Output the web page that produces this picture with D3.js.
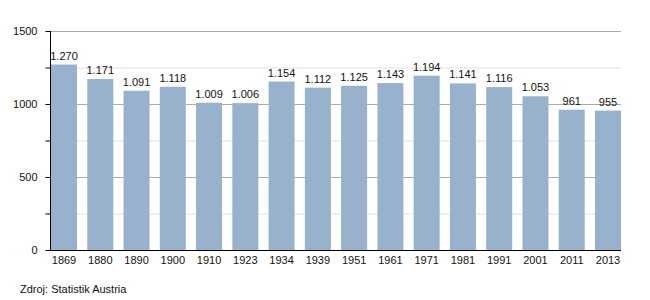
<!DOCTYPE html>
<html>
<head>
<meta charset="utf-8">
<script src="https://cdn.jsdelivr.net/npm/d3@7"></script>
<style>
	body { margin: 0; background: #fff; }
	text { font-family: "Liberation Sans", Arial, sans-serif; fill: #111; }
</style>
</head>
<body>
<svg id="chart" width="650" height="300"></svg>
<script>
var years = ["1869", "1880", "1890", "1900", "1910", "1923", "1934", "1939", "1951", "1961", "1971", "1981", "1991", "2001", "2011", "2013"];
var population = [1270, 1171, 1091, 1118, 1009, 1006, 1154, 1112, 1125, 1143, 1194, 1141, 1116, 1053, 961, 955];
var majorTicks = [0, 500, 1000, 1500];
var minorTicks = [250, 750, 1250];
var source = "Zdroj: Statistik Austria";

var svg = d3.select('#chart');
var plotLeft = 50, plotRight = 621, plotTop = 31, plotBottom = 250;

var x = d3.scaleBand()
	.domain(years)
	.range([51, plotRight])
	.paddingInner(0.283)
	.paddingOuter(0);

var y = d3.scaleLinear()
	.domain([0, 1500])
	.range([plotBottom, plotTop]);

// minor gridlines
svg.selectAll('line.minor')
	.data(minorTicks)
	.enter().append('line')
	.attr("x1", plotLeft).attr("x2", plotRight)
	.attr("y1", function(d){ return y(d) + 0.5; })
	.attr("y2", function(d){ return y(d) + 0.5; })
	.style("stroke", "#e2e2e2");

// major gridlines
svg.selectAll('line.major')
	.data(majorTicks.slice(1))
	.enter().append('line')
	.attr("x1", plotLeft).attr("x2", plotRight)
	.attr("y1", function(d){ return y(d) + 0.5; })
	.attr("y2", function(d){ return y(d) + 0.5; })
	.style("stroke", "#ababab");

// bars
svg.selectAll('rect.bar')
	.data(population)
	.enter().append('rect')
	.attr("class", "bar")
	.attr("x", function(d, i){ return x(years[i]); })
	.attr("y", function(d){ return y(d); })
	.attr("width", x.bandwidth())
	.attr("height", function(d){ return plotBottom - y(d); })
	.style("fill", "#98b2cd");

// value labels
var fmt = d3.formatLocale({decimal: ",", thousands: ".", grouping: [3], currency: ["", ""]}).format(",d");
svg.selectAll('text.val')
	.data(population)
	.enter().append('text')
	.attr("x", function(d, i){ return x(years[i]) + x.bandwidth() / 2; })
	.attr("y", function(d){ return y(d) - 5; })
	.attr("text-anchor", "middle")
	.style("font-size", "11px")
	.text(function(d){ return fmt(d); });

// y axis
var yAxis = d3.axisLeft(y)
	.tickValues(majorTicks.concat(minorTicks).sort(d3.ascending))
	.tickSize(5)
	.tickPadding(8)
	.tickFormat(function(d){ return d % 500 === 0 ? d : ""; });
var gy = svg.append('g')
	.attr("transform", "translate(" + (plotLeft + 0.5) + ",0)")
	.call(yAxis);
gy.select('.domain').attr("d", "M0," + plotTop + "V" + (plotBottom + 0.5)).style("stroke", "#000");
gy.selectAll('.tick line').style("stroke", "#000");
gy.selectAll('.tick text').style("font-size", "11px").style("font-family", "Liberation Sans, Arial, sans-serif");

// x axis
var xAxis = d3.axisBottom(x).tickSize(0).tickPadding(6);
var gx = svg.append('g')
	.attr("transform", "translate(0," + (plotBottom + 0.5) + ")")
	.call(xAxis);
gx.select('.domain').attr("d", "M" + plotLeft + ",0H" + plotRight).style("stroke", "#000");
gx.selectAll('.tick text').style("font-size", "11px").style("font-family", "Liberation Sans, Arial, sans-serif");

svg.append('text')
	.attr("x", 20)
	.attr("y", 293)
	.style("font-size", "11px")
	.text(source);
</script>
</body>
</html>
